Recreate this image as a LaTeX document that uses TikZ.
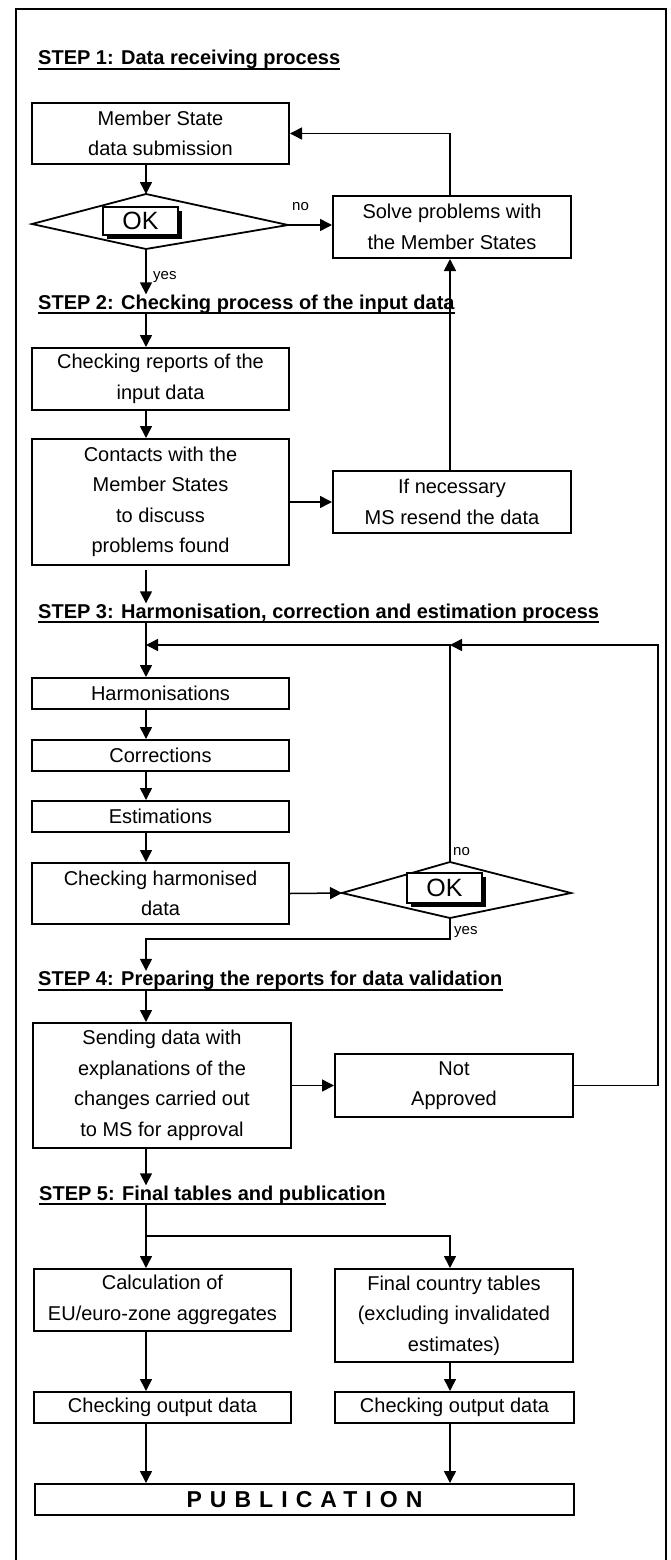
\documentclass[tikz,border=0pt]{standalone}
\usepackage{fontspec}
\setmainfont{Liberation Sans}
\usetikzlibrary{arrows.meta,shadows}

\tikzset{
    procbox/.style={draw, line width=2pt, align=center, inner sep=0pt,
        font=\fontsize{20}{30.5}\selectfont},
    stephead/.style={anchor=base west, inner sep=0pt, text depth=4pt,
        font=\bfseries\fontsize{20}{24}\selectfont},
    okbox/.style={draw, fill=white, line width=2pt, inner sep=0pt,
        minimum width=75pt, minimum height=28pt, font=\fontsize{25}{25}\selectfont,
        drop shadow={shadow xshift=4pt, shadow yshift=-4pt, fill=black, opacity=1}},
    lbl/.style={anchor=west, inner sep=0pt, font=\fontsize{15}{15}\selectfont},
    arr/.style={line width=1.5pt, -{Triangle[length=12pt,width=12pt]}},
    conn/.style={line width=1.5pt},
    decision/.style={line width=1.8pt, line join=miter},
}

\begin{document}
\begin{tikzpicture}[x=1pt, y=-1pt]
    \useasboundingbox (0,0) rectangle (670,1560);
    % frame, open at the bottom
    \draw[line width=1.5pt] (16,1560) -- (16,9) -- (666,9) -- (666,1560);

    \coordinate (colL) at (146,0);
    \coordinate (colR) at (450,0);

    % step headings
    \node[stephead] (s1) at (38,65) {STEP 1: Data receiving process};
    \node[stephead] (s2) at (38,309) {STEP 2: Checking process of the input data};
    \node[stephead] (s3) at (38,618) {STEP 3: Harmonisation, correction and estimation process};
    \node[stephead] (s4) at (38,985.5) {STEP 4: Preparing the reports for data validation};
    \node[stephead] (s5) at (39,1200) {STEP 5: Final tables and publication};
    \foreach \s in {s1,s2,s3,s4,s5} {
        \draw[line width=1.6pt] (\s.south west) -- (\s.south east);
    }

    % step 1
    \node[procbox, minimum width=257pt, minimum height=61pt] (ms) at (160.5,133.5)
        {Member State\\data submission};
    \coordinate (d1w) at (32,224);
    \coordinate (d1n) at (146,194);
    \coordinate (d1e) at (288,225);
    \coordinate (d1s) at (146,249);
    \draw[decision] (d1w) -- (d1n) -- (d1e) -- (d1s) -- cycle;
    \node[okbox] (ok1) at (140.5,220.5) {OK};
    \node[procbox, minimum width=238pt, minimum height=62pt] (solve) at (452,227)
        {Solve problems with\\the Member States};
    \draw[arr] (ms.south -| colL) -- (d1n);
    \draw[arr] (d1e) -- (solve.west |- d1e);
    \node[lbl] (no1) at (292,207) {no};
    \draw[arr] (solve.north -| colR) |- (ms.east);
    \draw[arr] (d1s) -- (d1s |- s2.north);
    \node[lbl] (yes1) at (153,277) {yes};

    % step 2
    \node[procbox, minimum width=257pt, minimum height=62pt] (chk) at (160.5,379)
        {Checking reports of the\\input data};
    \node[procbox, minimum width=257pt, minimum height=126pt] (cont) at (160.5,502)
        {Contacts with the\\Member States\\to discuss\\problems found};
    \node[procbox, minimum width=238pt, minimum height=62pt] (ifnec) at (452,502)
        {If necessary\\MS resend the data};
    \draw[arr] (s2.south -| colL) -- (chk.north -| colL);
    \draw[arr] (chk.south -| colL) -- (cont.north -| colL);
    \draw[arr] (cont.east) -- (ifnec.west);
    \draw[arr] (ifnec.north -| colR) -- (solve.south -| colR);
    \coordinate (contgap) at ([yshift=-4pt]cont.south);
    \draw[arr] (contgap -| colL) -- (s3.north -| colL);

    % step 3
    \node[procbox, minimum width=257pt, minimum height=31pt] (harm) at (160.5,693.5) {Harmonisations};
    \node[procbox, minimum width=257pt, minimum height=31pt] (corr) at (160.5,755.5) {Corrections};
    \node[procbox, minimum width=257pt, minimum height=31pt] (est) at (160.5,816.5) {Estimations};
    \node[procbox, minimum width=257pt, minimum height=61pt] (chkh) at (160.5,893.5)
        {Checking harmonised\\data};
    \coordinate (d2w) at (342,893);
    \coordinate (d2n) at (450,862);
    \coordinate (d2e) at (571,893);
    \coordinate (d2s) at (450,918);
    \draw[decision] (d2w) -- (d2n) -- (d2e) -- (d2s) -- cycle;
    \node[okbox, minimum height=30pt] (ok2) at (444.5,888) {OK};
    \coordinate (loopy) at (0,645);
    \coordinate (rloop) at (658,0);
    \coordinate (yesturn) at (146,939);
    \draw[arr] (s3.south -| colL) -- (harm.north -| colL);
    \draw[arr] (harm.south -| colL) -- (corr.north -| colL);
    \draw[arr] (corr.south -| colL) -- (est.north -| colL);
    \draw[arr] (est.south -| colL) -- (chkh.north -| colL);
    \draw[arr] (chkh.east) -- (d2w);
    \draw[arr] (d2n) -- (d2n |- loopy) -- (loopy -| colL);
    \node[lbl] (no2) at (453,852) {no};
    \draw[arr] (d2s) |- (yesturn) -- (s4.north -| colL);
    \node[lbl] (yes2) at (454,932) {yes};

    % step 4
    \node[procbox, minimum width=258pt, minimum height=125pt] (send) at (162,1085.5)
        {Sending data with\\explanations of the\\changes carried out\\to MS for approval};
    \node[procbox, minimum width=238pt, minimum height=63pt] (notap) at (454,1085.5)
        {Not\\Approved};
    \draw[arr] (s4.south -| colL) -- (send.north -| colL);
    \draw[arr] (send.east) -- (notap.west);
    \draw[arr] (notap.east) -| (rloop |- loopy) -- (loopy -| colR);
    \draw[arr] (send.south -| colL) -- (s5.north -| colL);

    % step 5
    \node[procbox, minimum width=257pt, minimum height=62pt] (calc) at (162.5,1300)
        {Calculation of\\EU/euro-zone aggregates};
    \node[procbox, minimum width=238pt, minimum height=93pt] (final) at (454,1315.5)
        {Final country tables\\(excluding invalidated\\estimates)};
    \node[procbox, minimum width=257pt, minimum height=31pt] (chkl) at (162.5,1407.5)
        {Checking output data};
    \node[procbox, minimum width=239pt, minimum height=31pt] (chkr) at (454.5,1407.5)
        {Checking output data};
    \node[procbox, minimum width=539pt, minimum height=31pt,
        font=\bfseries\fontsize{23}{23}\selectfont\addfontfeature{LetterSpace=35}] (pub)
        at (304.5,1499.5) {PUBLICATION};
    \coordinate (split) at (146,1236);
    \draw[arr] (s5.south -| colL) -- (calc.north -| colL);
    \draw[arr] (split) -| (final.north -| colR);
    \draw[arr] (calc.south -| colL) -- (chkl.north -| colL);
    \draw[arr] (final.south -| colR) -- (chkr.north -| colR);
    \draw[arr] (chkl.south -| colL) -- (pub.north -| colL);
    \draw[arr] (chkr.south -| colR) -- (pub.north -| colR);
\end{tikzpicture}
\end{document}
